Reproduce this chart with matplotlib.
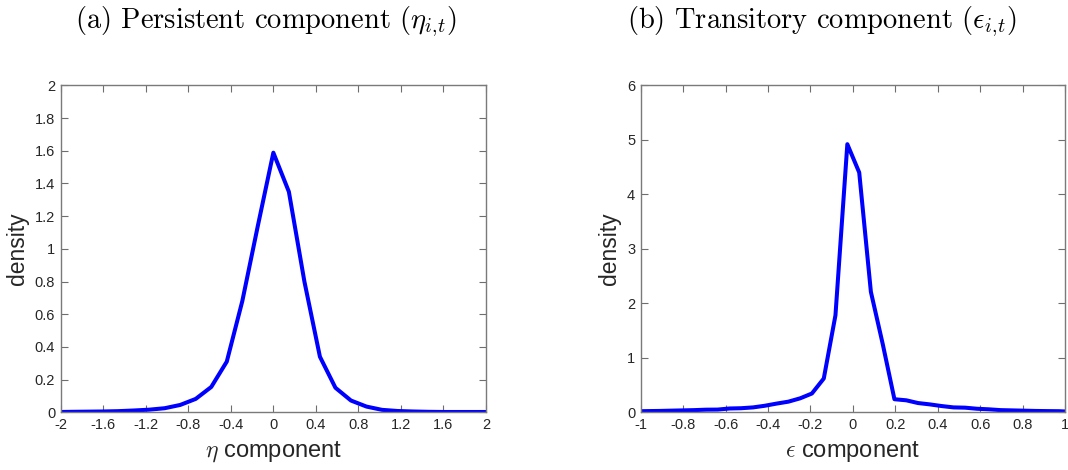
import matplotlib
matplotlib.use('Agg')
import matplotlib.pyplot as plt
from matplotlib.ticker import FormatStrFormatter

# persistent component density
eta_x = [-2.0, -1.898, -1.752, -1.606, -1.460, -1.314, -1.168, -1.022, -0.876,
         -0.730, -0.584, -0.438, -0.292, -0.146, 0.0, 0.146, 0.292, 0.438,
         0.584, 0.730, 0.876, 1.022, 1.168, 1.314, 1.460, 1.606, 1.752, 1.898, 2.0]
eta_y = [0.002, 0.003, 0.004, 0.005, 0.007, 0.011, 0.016, 0.025, 0.045,
         0.082, 0.155, 0.31, 0.68, 1.14, 1.588, 1.349, 0.80, 0.34,
         0.150, 0.072, 0.035, 0.015, 0.008, 0.005, 0.003, 0.002, 0.002, 0.002, 0.002]

# transitory component density
eps_x = [-1.0, -0.970, -0.914, -0.859, -0.803, -0.748, -0.692, -0.637, -0.581,
         -0.526, -0.470, -0.415, -0.359, -0.304, -0.248, -0.193, -0.137, -0.082,
         -0.026, 0.030, 0.085, 0.141, 0.196, 0.252, 0.307, 0.363, 0.418, 0.474,
         0.529, 0.585, 0.640, 0.696, 0.751, 0.807, 0.862, 0.918, 0.973, 1.0]
eps_y = [0.02, 0.022, 0.025, 0.03, 0.035, 0.04, 0.048, 0.05, 0.07,
         0.075, 0.09, 0.12, 0.16, 0.195, 0.257, 0.345, 0.62, 1.78,
         4.92, 4.40, 2.21, 1.25, 0.24, 0.22, 0.17, 0.145, 0.115, 0.09,
         0.085, 0.065, 0.055, 0.04, 0.035, 0.03, 0.025, 0.022, 0.02, 0.015]

eta_xticks = [-2, -1.6, -1.2, -0.8, -0.4, 0, 0.4, 0.8, 1.2, 1.6, 2]
eta_yticks = [0, 0.2, 0.4, 0.6, 0.8, 1, 1.2, 1.4, 1.6, 1.8, 2]
eps_xticks = [-1, -0.8, -0.6, -0.4, -0.2, 0, 0.2, 0.4, 0.6, 0.8, 1]
eps_yticks = [0, 1, 2, 3, 4, 5, 6]

plt.rcParams['font.family'] = ['Liberation Sans', 'DejaVu Sans']
plt.rcParams['mathtext.fontset'] = 'cm'
plt.rcParams['axes.unicode_minus'] = False

fig = plt.figure(figsize=(10.68, 4.70), dpi=100)
ax1 = fig.add_axes([60.7/1068, 57.7/470, 425.3/1068, 327/470])
ax2 = fig.add_axes([640.7/1068, 57.7/470, 424.3/1068, 327/470])

def style(ax, xt, yt):
    ax.set_xlim(xt[0], xt[-1])
    ax.set_ylim(yt[0], yt[-1])
    ax.set_xticks(xt)
    ax.set_yticks(yt)
    ax.xaxis.set_major_formatter(FormatStrFormatter('%g'))
    ax.yaxis.set_major_formatter(FormatStrFormatter('%g'))
    ax.tick_params(direction='in', length=5, width=0.8, color='#6e6e6e',
                   labelsize=10.5, labelcolor='#262626', top=True, right=True, pad=4)
    for s in ax.spines.values():
        s.set_color('#7a7a7a')
        s.set_linewidth(1.0)
    ax.set_ylabel('density', fontsize=16.5, color='#262626')

ax1.plot(eta_x, eta_y, color='#0000ff', linewidth=2.9)
style(ax1, eta_xticks, eta_yticks)
ax1.set_xlabel(r'$\eta$ component', fontsize=17, color='#262626', labelpad=5)

ax2.plot(eps_x, eps_y, color='#0000ff', linewidth=2.9)
style(ax2, eps_xticks, eps_yticks)
ax2.set_xlabel(r'$\epsilon$ component', fontsize=17, color='#262626', labelpad=5)

fig.text(266/1068, 1 - 22/470, r'(a) Persistent component ($\eta_{i,\!t}$)',
         family='cmr10', fontsize=20.5, ha='center', va='center')
fig.text(822/1068, 1 - 22/470, r'(b) Transitory component ($\epsilon_{i,\!t}$)',
         family='cmr10', fontsize=20.5, ha='center', va='center')

fig.savefig('out.png', dpi=100)
